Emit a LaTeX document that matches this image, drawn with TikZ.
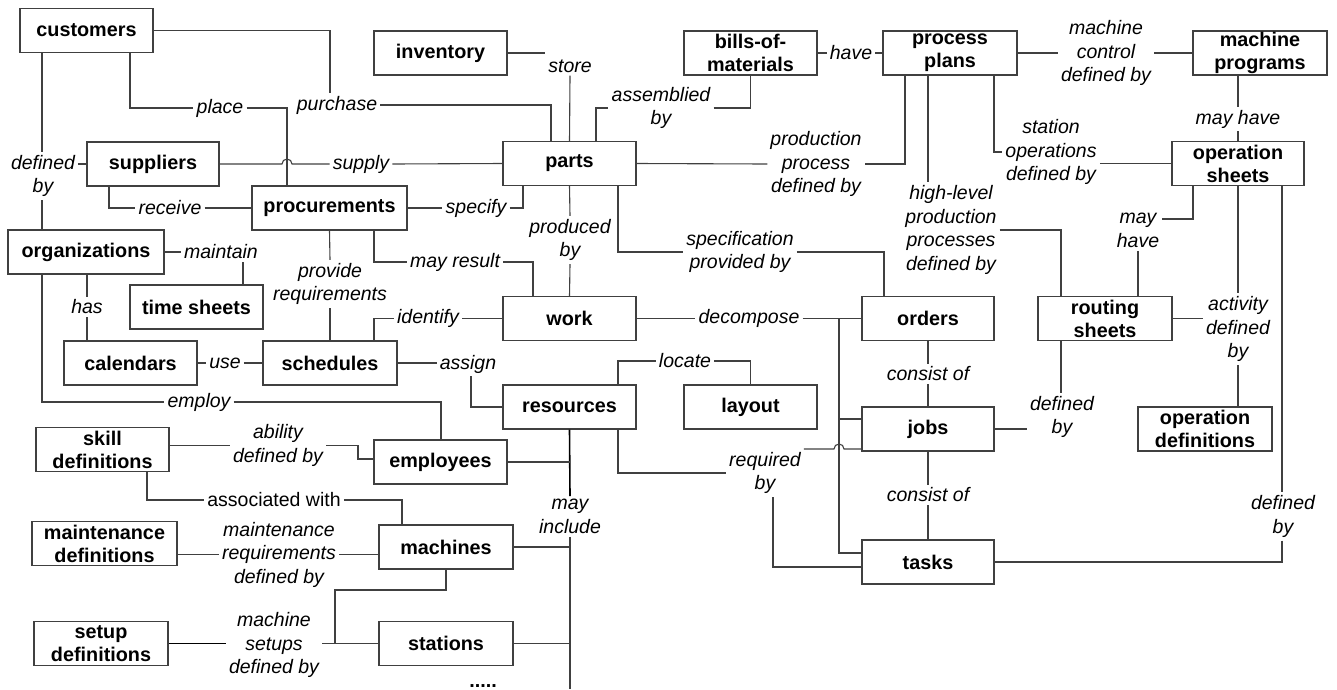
\documentclass[tikz,border=0pt]{standalone}
\usepackage{fontspec}
\setmainfont{Liberation Sans}
\newcommand\bxfont{\fontsize{19.8}{23}\selectfont\bfseries}
\newcommand\lbfont{\fontsize{19.5}{23.5}\selectfont\itshape}
\newcommand\upfont{\fontsize{19.5}{23.5}\selectfont}
\tikzset{
  box/.style={draw=black!75, line width=1.3pt, fill=white, minimum width=133pt, minimum height=44pt, inner sep=1pt, align=center, font=\bxfont},
  lab/.style={inner sep=3pt, align=center, font=\lbfont},
  conn/.style={draw=black!75, line width=1.1pt},
}
\begin{document}
\begin{tikzpicture}[x=1pt,y=-1pt]
\useasboundingbox (0,0) rectangle (1337,689);
% boxes
\node[box] (customers) at (86.5,30.5) {customers};
\node[box, minimum width=132pt] (suppliers) at (153,164) {suppliers};
\node[box, minimum width=155pt] (procurements) at (329.5,208) {procurements};
\node[box] (inventory) at (440.5,53) {inventory};
\node[box] (bills) at (750.5,53) {bills-of-\\materials};
\node[box, minimum width=134pt] (plans) at (950,53) {process\\plans};
\node[box, minimum width=134pt] (mprog) at (1260,53) {machine\\programs};
\node[box] (parts) at (569.5,163.5) {parts};
\node[box, minimum width=132pt] (opsheets) at (1238,163.5) {operation\\sheets};
\node[box, minimum width=156pt] (organizations) at (86,252) {organizations};
\node[box] (timesheets) at (196.5,307) {time sheets};
\node[box] (calendars) at (130.5,363) {calendars};
\node[box, minimum width=134pt] (schedules) at (330,363) {schedules};
\node[box] (work) at (569.5,318.5) {work};
\node[box] (resources) at (569.5,407) {resources};
\node[box] (layout) at (750.5,407) {layout};
\node[box, minimum width=132pt] (orders) at (928,318.5) {orders};
\node[box, minimum width=134pt] (routing) at (1105,318.5) {routing\\sheets};
\node[box, minimum width=132pt] (jobs) at (928,429) {jobs};
\node[box, minimum width=134pt] (opdefs) at (1205,429) {operation\\definitions};
\node[box, minimum width=132pt] (tasks) at (928,562) {tasks};
\node[box] (skill) at (102.5,449.5) {skill\\definitions};
\node[box] (employees) at (440.5,462) {employees};
\node[box, minimum width=145pt] (maint) at (104.5,543.5) {maintenance\\definitions};
\node[box, minimum width=134pt] (machines) at (446,547) {machines};
\node[box, minimum width=134pt] (setup) at (101,643.5) {setup\\definitions};
\node[box, minimum width=134pt] (stations) at (446,643.5) {stations};
\node[font=\bxfont, anchor=base] (dots) at (483,687) {.....};
% labels
\node[lab] (purchase) at (337,105) {purchase};
\node[lab] (place) at (220,108) {place};
\node[lab] (definedby1) at (43,176) {defined\\by};
\node[lab] (receive) at (170,208) {receive};
\node[lab] (supply) at (361,164) {supply};
\node[lab] (specify) at (476,208) {specify};
\node[lab] (provide) at (330,284) {provide\\requirements};
\node[lab] (mayresult) at (455,262) {may result};
\node[lab] (produced) at (570,240) {produced\\by};
\node[lab] (spec) at (740,252) {specification\\provided by};
\node[lab] (store) at (570,66) {store};
\node[lab] (assembled) at (661,108) {assemblied\\by};
\node[lab] (have) at (851,53) {have};
\node[lab] (mcontrol) at (1106,53) {machine\\control\\defined by};
\node[lab] (mayhave1) at (1238,119) {may have};
\node[lab] (ppdef) at (816,164) {production\\process\\defined by};
\node[lab] (highlevel) at (951,230) {high-level\\production\\processes\\defined by};
\node[lab] (stationops) at (1051,152) {station\\operations\\defined by};
\node[lab] (mayhave2) at (1138,230.5) {may\\have};
\node[lab] (activity) at (1238,329) {activity\\defined\\by};
\node[lab] (defby3) at (1283,516.5) {defined\\by};
\node[lab] (defby2) at (1062,417) {defined\\by};
\node[lab] (consist1) at (928,374) {consist of};
\node[lab] (consist2) at (928,495) {consist of};
\node[lab] (decompose) at (749,318.5) {decompose};
\node[lab] (required) at (765,473) {required\\by};
\node[lab] (identify) at (428,318.5) {identify};
\node[lab] (assign) at (468,364) {assign};
\node[lab] (locate) at (685,361) {locate};
\node[lab] (maintain) at (221,252) {maintain};
\node[lab] (has) at (87,307) {has};
\node[lab] (use) at (225,363) {use};
\node[lab] (employ) at (199,402) {employ};
\node[lab] (ability) at (278,445.5) {ability\\defined by};
\node[lab, font=\upfont] (assoc) at (274,500) {associated with};
\node[lab] (maintreq) at (279,554.5) {maintenance\\requirements\\defined by};
\node[lab] (msetups) at (274,645) {machine\\setups\\defined by};
\node[lab] (mayinclude) at (570,516.5) {may\\include};
% connectors
\draw[conn] (customers.east) -| (330,0 |- purchase.north);
\draw[conn] (purchase.east) -| (551,0 |- parts.north);
\draw[conn] (130,0 |- customers.south) |- (place.west);
\draw[conn] (place.east) -| (287,0 |- procurements.north);
\draw[conn] (suppliers.east) -- (282,164) arc (180:360:5) -- (supply.west);
\draw[conn] (supply.east) -- (parts.west);
\draw[conn] (42,0 |- customers.south) -- (42,0 |- definedby1.north);
\draw[conn] (42,0 |- definedby1.south) -- (42,0 |- organizations.north);
\draw[conn] (definedby1.east |- suppliers.west) -- (suppliers.west);
\draw[conn] (109,0 |- suppliers.south) |- (receive.west);
\draw[conn] (receive.east) -- (procurements.west);
\draw[conn] (procurements.east) -- (specify.west);
\draw[conn] (specify.east) -| (523,0 |- parts.south);
\draw[conn] (procurements.south) -- (provide.north);
\draw[conn] (provide.south) -- (provide.south |- schedules.north);
\draw[conn] (374,0 |- procurements.south) |- (mayresult.west);
\draw[conn] (mayresult.east) -| (533,0 |- work.north);
\draw[conn] (parts.south) -- (produced.north);
\draw[conn] (produced.south) -- (work.north);
\draw[conn] (618,0 |- parts.south) |- (spec.west);
\draw[conn] (spec.east) -| (884,0 |- orders.north);
\draw[conn] (parts.north) -- (store.south);
\draw[conn] (inventory.east) -- (store.north west |- inventory.east);
\draw[conn] (596,0 |- parts.north) |- (assembled.west);
\draw[conn] (assembled.east) -| (bills.south);
\draw[conn] (bills.east) -- (have.west);
\draw[conn] (have.east) -- (plans.west);
\draw[conn] (plans.east) -- (mcontrol.west);
\draw[conn] (mcontrol.east) -- (mprog.west);
\draw[conn] (1238,0 |- mprog.south) -- (mayhave1.north);
\draw[conn] (mayhave1.south) -- (opsheets.north);
\draw[conn] (905,0 |- plans.south) |- (ppdef.east);
\draw[conn] (parts.east) -- (ppdef.west);
\draw[conn] (928,0 |- plans.south) -- (928,0 |- highlevel.north);
\draw[conn] (highlevel.east) -| (1061,0 |- routing.north);
\draw[conn] (994,0 |- plans.south) |- (stationops.west);
\draw[conn] (stationops.east |- opsheets.west) -- (opsheets.west);
\draw[conn] (1193,0 |- opsheets.south) |- (mayhave2.east |- 0,219);
\draw[conn] (mayhave2.south) -- (mayhave2.south |- routing.north);
\draw[conn] (opsheets.south) -- (activity.north);
\draw[conn] (routing.east) -- (activity.west |- routing.east);
\draw[conn] (activity.south) -- (activity.south |- opdefs.north);
\draw[conn] (1282,0 |- opsheets.south) -- (1282,0 |- defby3.north);
\draw[conn] (1282,0 |- defby3.south) |- (tasks.east);
\draw[conn] (1061,0 |- routing.south) -- (1061,0 |- defby2.north);
\draw[conn] (jobs.east) -- (defby2.west |- jobs.east);
\draw[conn] (orders.south) -- (consist1.north);
\draw[conn] (consist1.south) -- (jobs.north);
\draw[conn] (jobs.south) -- (consist2.north);
\draw[conn] (consist2.south) -- (tasks.north);
\draw[conn] (work.east) -- (decompose.west);
\draw[conn] (decompose.east) -- (orders.west);
\draw[conn] (839,0 |- orders.west) -- (839,553) -- (tasks.west |- 0,553);
\draw[conn] (839,419) -- (jobs.west |- 0,419);
\draw[conn] (618,0 |- resources.south) |- (required.west);
\draw[conn] (required.north east) -- (834,0 |- required.north east) arc (180:360:5) -- (jobs.west |- required.north east);
\draw[conn] (773,0 |- required.south) |- (tasks.west |- 0,567);
\draw[conn] (374,0 |- schedules.north) |- (identify.west);
\draw[conn] (identify.east) -- (work.west);
\draw[conn] (schedules.east) -- (assign.west |- schedules.east);
\draw[conn] (471,0 |- assign.south) |- (resources.west);
\draw[conn] (618,0 |- resources.north) |- (locate.west);
\draw[conn] (locate.east) -| (layout.north);
\draw[conn] (organizations.east) -- (maintain.west);
\draw[conn] (243,0 |- maintain.south) -- (243,0 |- timesheets.north);
\draw[conn] (87,0 |- organizations.south) -- (has.north);
\draw[conn] (has.south) -- (has.south |- calendars.north);
\draw[conn] (calendars.east) -- (use.west);
\draw[conn] (use.east) -- (schedules.west);
\draw[conn] (42,0 |- organizations.south) |- (employ.west);
\draw[conn] (employ.east) -| (441,0 |- employees.north);
\draw[conn] (skill.east |- ability.west) -- (ability.west);
\draw[conn] (ability.east) -| (358,459) -- (employees.west |- 0,459);
\draw[conn] (147,0 |- skill.south) |- (assoc.west);
\draw[conn] (assoc.east) -| (402,0 |- machines.north);
\draw[conn] (maint.east |- maintreq.west) -- (maintreq.west);
\draw[conn] (maintreq.east) -- (machines.west |- maintreq.east);
\draw[conn] (machines.south) |- (335,590) -- (335,0 |- stations.west);
\draw[conn, line width=1.6pt, draw=black] (setup.east) -- (msetups.west |- setup.east);
\draw[conn] (msetups.east |- stations.west) -- (stations.west);
\draw[conn, line width=1.6pt, draw=black] (resources.south) -- (mayinclude.north);
\draw[conn] (mayinclude.south) -- (570,689);
\draw[conn] (employees.east) -- (570,0 |- employees.east);
\draw[conn] (machines.east) -- (570,0 |- machines.east);
\draw[conn] (stations.east) -- (570,0 |- stations.east);
\end{tikzpicture}
\end{document}
